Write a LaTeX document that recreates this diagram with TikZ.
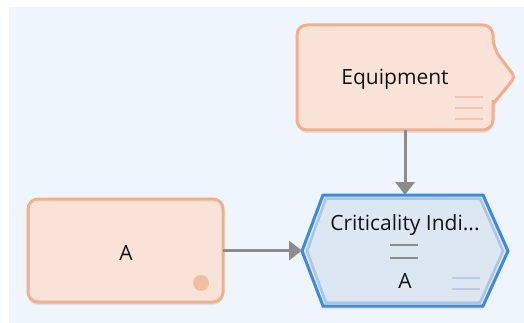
\documentclass[tikz,border=0pt]{standalone}
\usepackage{fontspec}
\setmainfont{Open Sans}
\usetikzlibrary{arrows.meta,positioning,calc}
\definecolor{CanvasBlue}{RGB}{238,245,253}
\definecolor{BoxFill}{RGB}{249,227,216}
\definecolor{BoxEdge}{RGB}{244,174,140}
\definecolor{BoxMark}{RGB}{246,196,172}
\definecolor{BoxDot}{RGB}{245,188,164}
\definecolor{HexFill}{RGB}{221,231,241}
\definecolor{HexEdge}{RGB}{61,139,224}
\definecolor{HexInner}{RGB}{168,198,234}
\definecolor{HexMark}{RGB}{181,205,232}
\definecolor{LinkGray}{RGB}{140,140,140}
\definecolor{TextDark}{RGB}{20,20,20}

\begin{document}
\begin{tikzpicture}[x=1pt,y=-1pt,
  lbl/.style={font=\fontsize{21}{24}\selectfont,text=TextDark,inner sep=0pt,anchor=base},
  frame/.style={draw=none,inner sep=0pt,outer sep=0pt},
  boxshape/.style={fill=BoxFill,draw=BoxEdge,line width=3pt,
    preaction={fill=black,opacity=.08,transform canvas={yshift=-3pt}}},
  hexshape/.style={fill=HexFill,draw=HexEdge,line width=3pt,
    preaction={fill=black,opacity=.06,transform canvas={yshift=-3pt}}},
  link/.style={draw=LinkGray,line width=3pt,-{Triangle[length=13pt,width=19pt]}}]
\useasboundingbox(0,0)rectangle(524,323);
\fill[CanvasBlue](9,7)rectangle(524,323);
\draw[boxshape,rounded corners=10pt](395,25)--(493,25)--(493,48)[rounded corners=4pt]--(515,77)[sharp corners]--(493,104)[rounded corners=4pt]--(493,104.1)[rounded corners=10pt]--(493,130)--(297,130)--(297,25)--cycle;
\draw[boxshape,rounded corners=10pt](28,199)rectangle(223,302);
\draw[hexshape](302,251)--(323,195)--(483,195)--(508,251)--(483,306)--(323,306)--cycle;
\draw[HexInner,line width=2.5pt](307,251)--(326,198.5)--(480,198.5)--(503,251)--(480,302.5)--(326,302.5)--cycle;
\node[frame,minimum width=196pt,minimum height=105pt](equip)at(395,77.5){};
\node[frame,minimum width=206pt,minimum height=111pt](crit)at(405,250.5){};
\node[frame,minimum width=195pt,minimum height=103pt](tag)at(125.5,250.5){};
\node[lbl](equiptxt)at(395,85){Equipment};
\node[lbl](crittxt)at(405,230){Criticality Indi...};
\node[lbl](critval)at(405,288){A};
\node[lbl](tagtxt)at(126,260){A};
\foreach \yy in {97,108,119}{
  \draw[BoxMark,line width=1.5pt](455,\yy)--(483,\yy);
}
\foreach \yy in {278,289}{
  \draw[HexMark,line width=1.5pt](452,\yy)--(480,\yy);
}
\foreach \yy in {245,258}{
  \draw[LinkGray,line width=2pt](390,\yy)--(418,\yy);
}
\fill[BoxDot](201,283)circle(8pt);
\draw[link](crit.north|-equip.south)--(crit.north);
\draw[link](tag.east)--(crit.west);
\end{tikzpicture}
\end{document}
